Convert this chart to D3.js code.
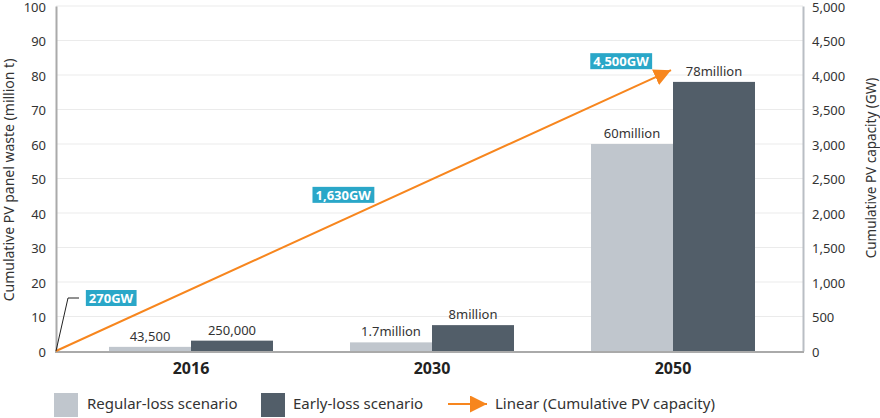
<!DOCTYPE html>
<html>
<head>
<meta charset="utf-8">
<script src="https://cdn.jsdelivr.net/npm/d3@7"></script>
<style>
  body { margin: 0; background: #fff; }
  text { font-family: "Noto Sans", sans-serif; }
</style>
</head>
<body>
<div id="chart"></div>
<script>
// Categories and series
var years = ["2016", "2030", "2050"];
var series = ["Regular-loss scenario", "Early-loss scenario"];

// Bar heights as drawn (million t)
var regularLoss = [1.2, 2.5, 60];
var earlyLoss = [3.0, 7.5, 78];

// Labels printed above the bars
var regularLabels = ["43,500", "1.7million", "60million"];
var earlyLabels = ["250,000", "8million", "78million"];

// Linear trend of cumulative PV capacity (GW), from the origin to 2050
var trendGW = [0, 4070];
var capacityNotes = ["270GW", "1,630GW", "4,500GW"];

// Axis ticks
var leftTicks = [0, 10, 20, 30, 40, 50, 60, 70, 80, 90, 100];
var rightTicks = [0, 500, 1000, 1500, 2000, 2500, 3000, 3500, 4000, 4500, 5000];

var width = 880;
var height = 418;
var plotLeft = 56, plotRight = 803, plotTop = 6, plotBottom = 351;

var regularColor = "#c0c6cd";
var earlyColor = "#525e69";
var lineColor = "#f7861e";
var noteColor = "#2aa7c8";

var svg = d3.select("#chart")
    .append("svg")
    .attr("width", width)
    .attr("height", height);

var defs = svg.append("defs");
defs.append("marker")
    .attr("id", "arrow")
    .attr("viewBox", "0 0 10 10")
    .attr("refX", 10)
    .attr("refY", 5)
    .attr("markerUnits", "userSpaceOnUse")
    .attr("markerWidth", 17)
    .attr("markerHeight", 17)
    .attr("orient", "auto")
  .append("path")
    .attr("d", "M0,0 L10,5 L0,10 Z")
    .attr("fill", lineColor);

// Scales
var x0 = d3.scaleBand()
    .domain(years)
    .range([70.5, 793.5]);

var barW = 82;
var x1 = d3.scaleBand()
    .domain(series)
    .range([x0.bandwidth() / 2 - barW, x0.bandwidth() / 2 + barW]);

var yLeft = d3.scaleLinear()
    .domain([0, 100])
    .range([plotBottom, plotTop]);

var yRight = d3.scaleLinear()
    .domain([0, 5000])
    .range([plotBottom, plotTop]);

// Gridlines
svg.append("g")
    .selectAll("line")
    .data(leftTicks.slice(1))
    .join("line")
      .attr("x1", plotLeft)
      .attr("x2", plotRight)
      .attr("y1", d => yLeft(d))
      .attr("y2", d => yLeft(d))
      .attr("stroke", "#ebebeb")
      .attr("stroke-width", 1);

// Left axis
var leftAxis = svg.append("g")
    .attr("transform", `translate(${plotLeft},0)`)
    .call(d3.axisLeft(yLeft).tickValues(leftTicks).tickSize(0).tickPadding(10));
leftAxis.select(".domain").attr("stroke", "#aaaaaa").attr("stroke-width", 2);
leftAxis.selectAll("text")
    .attr("font-size", 13)
    .attr("dy", "0.42em")
    .attr("fill", "#333")
    .style("font-family", "Noto Sans, sans-serif");

// Right axis
var rightAxis = svg.append("g")
    .attr("transform", `translate(${plotRight},0)`)
    .call(d3.axisRight(yRight).tickValues(rightTicks).tickSize(0).tickPadding(9)
          .tickFormat(d3.format(",")));
rightAxis.select(".domain").attr("stroke", "#b9bec4").attr("stroke-width", 2);
rightAxis.selectAll("text")
    .attr("font-size", 13)
    .attr("dy", "0.42em")
    .attr("fill", "#333")
    .style("font-family", "Noto Sans, sans-serif");

// Bars
var rows = years.map((y, i) => ({
    year: y,
    values: [
        {key: series[0], value: regularLoss[i], label: regularLabels[i], color: regularColor},
        {key: series[1], value: earlyLoss[i], label: earlyLabels[i], color: earlyColor}
    ]
}));

var groups = svg.append("g")
    .selectAll("g")
    .data(rows)
    .join("g")
      .attr("transform", d => `translate(${x0(d.year)},0)`);

groups.selectAll("rect")
    .data(d => d.values)
    .join("rect")
      .attr("x", d => x1(d.key))
      .attr("width", x1.bandwidth())
      .attr("y", d => yLeft(d.value))
      .attr("height", d => yLeft(0) - yLeft(d.value))
      .attr("fill", d => d.color);

groups.selectAll("text")
    .data(d => d.values)
    .join("text")
      .attr("x", d => x1(d.key) + x1.bandwidth() / 2)
      .attr("y", d => yLeft(d.value) - 6)
      .attr("text-anchor", "middle")
      .attr("font-size", 13)
      .attr("fill", "#333")
      .text(d => d.label);

// Bottom axis line
svg.append("line")
    .attr("x1", plotLeft - 1)
    .attr("x2", plotRight + 1)
    .attr("y1", plotBottom + 1)
    .attr("y2", plotBottom + 1)
    .attr("stroke", "#aaaaaa")
    .attr("stroke-width", 2);

// Year labels
svg.append("g")
    .selectAll("text")
    .data(years)
    .join("text")
      .attr("x", d => x0(d) + x0.bandwidth() / 2)
      .attr("y", 374)
      .attr("text-anchor", "middle")
      .attr("font-size", 16)
      .attr("font-weight", "bold")
      .attr("fill", "#222")
      .text(d => d);

// Trend line
var trendPts = [
    [plotLeft, yRight(trendGW[0])],
    [x0("2050") + x0.bandwidth() / 2 - 2, yRight(trendGW[1])]
];
svg.append("path")
    .attr("d", d3.line()(trendPts))
    .attr("stroke", lineColor)
    .attr("stroke-width", 2)
    .attr("fill", "none")
    .attr("marker-end", "url(#arrow)");

function alongTrend(t) {
    return [
        trendPts[0][0] + (trendPts[1][0] - trendPts[0][0]) * t,
        trendPts[0][1] + (trendPts[1][1] - trendPts[0][1]) * t
    ];
}

// Capacity notes: position along the trend plus an offset
var notePlace = [
    {t: 0, dx: 55, dy: -53},
    {t: 0.467, dx: 0, dy: -25},
    {t: 1, dx: -50, dy: -9}
];

// Leader for the first note
var o = alongTrend(0);
svg.append("path")
    .attr("d", d3.line()([[o[0], o[1]], [o[0] + 12, o[1] - 53], [o[0] + 23, o[1] - 53]]))
    .attr("stroke", "#222")
    .attr("stroke-width", 1)
    .attr("fill", "none");

var notes = svg.append("g")
    .selectAll("g")
    .data(capacityNotes)
    .join("g")
      .attr("transform", (d, i) => {
          var p = alongTrend(notePlace[i].t);
          return `translate(${p[0] + notePlace[i].dx},${p[1] + notePlace[i].dy})`;
      });

notes.append("text")
    .attr("text-anchor", "middle")
    .attr("dy", "0.36em")
    .attr("font-size", 13)
    .attr("font-weight", "bold")
    .attr("fill", "#fff")
    .text(d => d);

notes.each(function () {
    var g = d3.select(this);
    var bb = g.select("text").node().getBBox();
    g.insert("rect", "text")
        .attr("x", bb.x - 3)
        .attr("y", -8)
        .attr("width", bb.width + 6)
        .attr("height", 16)
        .attr("fill", noteColor);
});

// Axis titles
svg.append("text")
    .attr("transform", "translate(14,180) rotate(-90)")
    .attr("text-anchor", "middle")
    .attr("font-size", 14)
    .attr("fill", "#333")
    .text("Cumulative PV panel waste (million t)");

svg.append("text")
    .attr("transform", "translate(876,168) rotate(-90)")
    .attr("text-anchor", "middle")
    .attr("font-size", 13.5)
    .attr("fill", "#333")
    .text("Cumulative PV capacity (GW)");

// Legend
var legend = svg.append("g").attr("transform", "translate(0,404)");

legend.append("rect").attr("x", 54).attr("y", -11).attr("width", 24).attr("height", 24).attr("fill", regularColor);
legend.append("text").attr("x", 87).attr("dy", "0.35em").attr("font-size", 15).attr("fill", "#333").text(series[0]);

legend.append("rect").attr("x", 261).attr("y", -11).attr("width", 24).attr("height", 24).attr("fill", earlyColor);
legend.append("text").attr("x", 293).attr("dy", "0.35em").attr("font-size", 15).attr("fill", "#333").text(series[1]);

legend.append("line")
    .attr("x1", 448).attr("x2", 487).attr("y1", 0).attr("y2", 0)
    .attr("stroke", lineColor).attr("stroke-width", 2)
    .attr("marker-end", "url(#arrow)");
legend.append("text").attr("x", 495).attr("dy", "0.35em").attr("font-size", 15).attr("fill", "#333")
    .text("Linear (Cumulative PV capacity)");
</script>
</body>
</html>
